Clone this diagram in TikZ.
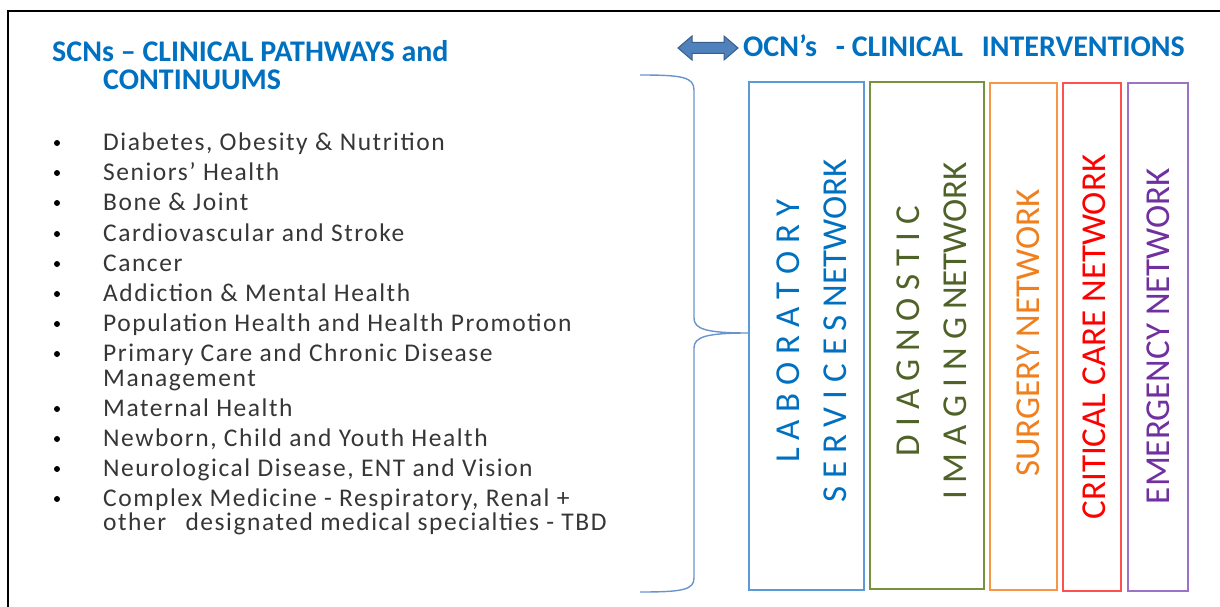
\documentclass[tikz,border=0pt]{standalone}
\usepackage{fontspec}
\setmainfont{Carlito}
\newfontfamily\bodyfont[LetterSpace=6]{Carlito}
\definecolor{headblue}{HTML}{0070C0}
\definecolor{bodygray}{HTML}{363636}
\definecolor{bracecol}{HTML}{6A93CC}
\definecolor{arrowfill}{HTML}{4F81BD}
\definecolor{arrowline}{HTML}{385D8A}
\definecolor{labline}{HTML}{5B9BD5}
\definecolor{labtext}{HTML}{0070C0}
\definecolor{diline}{HTML}{76923C}
\definecolor{ditext}{HTML}{4F6228}
\definecolor{surgline}{HTML}{F79646}
\definecolor{surgtext}{HTML}{F07F1E}
\definecolor{critline}{HTML}{FF5050}
\definecolor{crittext}{HTML}{FF0000}
\definecolor{emerline}{HTML}{9B72C8}
\definecolor{emertext}{HTML}{7030A0}
\tikzset{
  item/.style={anchor=base west, inner sep=0pt, text=bodygray,
    font=\bodyfont\fontsize{25.5}{25.5}\selectfont},
  dot/.style={circle, fill=black, inner sep=0pt, minimum size=6pt},
  headline/.style={anchor=base west, inner sep=0pt, text=headblue,
    font=\fontsize{30}{30}\selectfont\bfseries},
  netbox/.style={draw, line width=1.5pt, inner sep=0pt},
  nettext/.style={rotate=90, inner sep=0pt, align=center,
    font=\fontsize{35}{47}\selectfont},
  brace/.style={draw=bracecol, line width=1.4pt},
}
\begin{document}
\begin{tikzpicture}[x=1pt,y=-1pt]
\useasboundingbox (0,0) rectangle (1220,607);

% outer frame: top and left edges
\draw[line width=2pt] (8,607) -- (8,11) -- (1220,11);

% left column heading
\node[headline] (scnA) at (52,62) {SCNs – CLINICAL PATHWAYS and};
\node[headline] (scnB) at (103,90) {CONTINUUMS};

% list of strategic clinical networks
\foreach \n/\y/\t in {
  1/150/{Diabetes, Obesity \& Nutrition},
  2/180/{Seniors’ Health},
  3/210/{Bone \& Joint},
  4/241/{Cardiovascular and Stroke},
  5/271/{Cancer},
  6/301/{Addiction \& Mental Health},
  7/331/{Population Health and Health Promotion},
  8/361/{Primary Care and Chronic Disease},
  9/416/{Maternal Health},
  10/446/{Newborn, Child and Youth Health},
  11/476/{Neurological Disease, ENT and Vision},
  12/506/{Complex Medicine - Respiratory, Renal +}}{
  \node[item] (item\n) at (103,\y) {\t};
  \node[dot] (bul\n) at (57,\y-7) {};
}
\node[item] (item8b) at (103,386) {Management};
\node[item] (item12b) at (103,530) {other\hspace{12pt} designated medical specialties - TBD};

% right heading with double arrow
\draw[fill=arrowfill, draw=arrowline, line width=1pt, line join=miter]
  (678,48) -- (692,36) -- (692,42.5) -- (724,42.5) -- (724,36) -- (738,48)
  -- (724,60) -- (724,53.5) -- (692,53.5) -- (692,60) -- cycle;
\node[headline] (ocn) at (743,57) {OCN’s\hspace{12pt} - CLINICAL\hspace{12pt} INTERVENTIONS};

% network columns
\node[netbox, draw=labline, minimum width=115pt, minimum height=508pt] (lab) at (806.5,336) {};
\node[netbox, draw=diline, minimum width=114pt, minimum height=507pt] (di) at (927,335.5) {};
\node[netbox, draw=surgline, minimum width=67pt, minimum height=507pt] (surg) at (1023.5,336.5) {};
\node[netbox, draw=critline, minimum width=58pt, minimum height=508pt] (crit) at (1092,337) {};
\node[netbox, draw=emerline, minimum width=60pt, minimum height=508pt] (emer) at (1158,337) {};

\node[nettext, text=labtext] (labT) at (811.5,331) {L A B O R A T O R Y\\S E R V I C E S NETWORK};
\node[nettext, text=ditext] (diT) at (931.5,331) {D I A G N O S T I C\\I M A G I N G NETWORK};
\node[nettext, text=surgtext] (surgT) at (1028,333) {SURGERY NETWORK};
\node[nettext, text=crittext] (critT) at (1094,337) {CRITICAL CARE NETWORK};
\node[nettext, text=emertext] (emerT) at (1158,336) {EMERGENCY NETWORK};

% brace joining the list to the columns
\coordinate (braceTop) at (640,75);
\coordinate (braceBot) at (640,592);
\coordinate (braceTip) at (lab.west |- 0,333);
\path[brace] (braceTop) .. controls (682,75) and (694,77) .. (694,90)
  -- (694,318) .. controls (694,329) and (706,333) .. (braceTip)
  .. controls (706,333) and (694,337) .. (694,348)
  -- (694,578) .. controls (694,590) and (682,592) .. (braceBot);
\end{tikzpicture}
\end{document}
